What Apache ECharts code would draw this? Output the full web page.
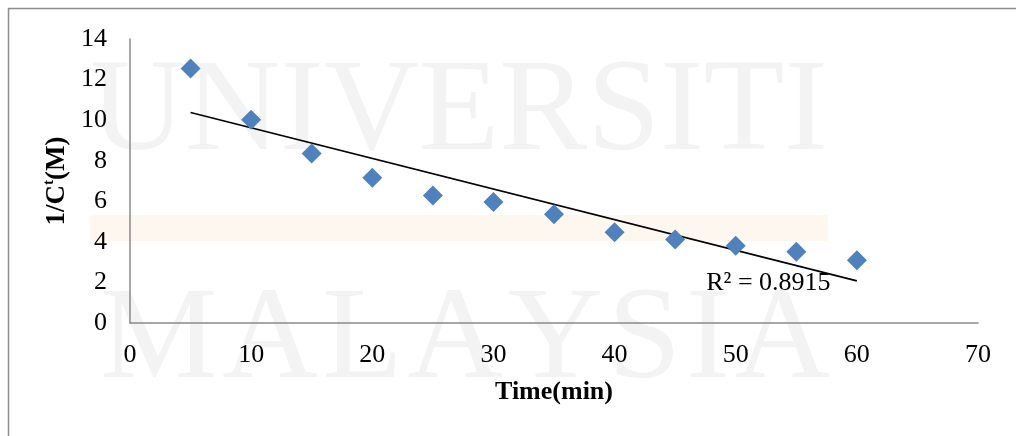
<!DOCTYPE html>
<html>
<head>
<meta charset="utf-8">
<script src="https://cdn.jsdelivr.net/npm/echarts@6/dist/echarts.min.js"></script>
<style>
  html, body { margin: 0; padding: 0; background: #ffffff; }
  #chart { width: 1016px; height: 436px; }
</style>
</head>
<body>
<div id="chart"></div>
<script>
// Reaction time (min) and reciprocal concentration 1/Ct (M)
const timeMin = [5, 10, 15, 20, 25, 30, 35, 40, 45, 50, 55, 60];
const invConc = [12.55, 10.02, 8.36, 7.16, 6.28, 5.96, 5.36, 4.47, 4.12, 3.81, 3.51, 3.09];

// Axis ranges
const xRange = [0, 70, 10];
const yRange = [0, 14, 2];

// Texts
const xTitle = 'Time(min)';
const rSquaredText = 'R\u00B2 = 0.8915';
const watermarkTop = 'UNIVERSITI';
const watermarkBottom = 'MALAYSIA';

const SERIF = '"Liberation Serif", "Times New Roman", serif';

// Ordinary least-squares linear trendline over the measured points
function linearFit(xs, ys) {
  const n = xs.length;
  const mx = xs.reduce((a, b) => a + b, 0) / n;
  const my = ys.reduce((a, b) => a + b, 0) / n;
  let sxy = 0, sxx = 0;
  for (let i = 0; i < n; i++) {
    sxy += (xs[i] - mx) * (ys[i] - my);
    sxx += (xs[i] - mx) * (xs[i] - mx);
  }
  const slope = sxy / sxx;
  return { slope, intercept: my - slope * mx };
}
const fit = linearFit(timeMin, invConc);
const xFirst = timeMin[0], xLast = timeMin[timeMin.length - 1];
const trendLine = [
  [xFirst, fit.intercept + fit.slope * xFirst],
  [xLast, fit.intercept + fit.slope * xLast]
];

const chart = echarts.init(document.getElementById('chart'), null, { renderer: 'canvas' });

// Lay out letter-spaced watermark words between two x positions
function spacedLetters(word, x0, x1, baseline, size) {
  const ctx = document.createElement('canvas').getContext('2d');
  ctx.font = size + 'px ' + SERIF;
  const widths = word.split('').map(ch => ctx.measureText(ch).width);
  const total = widths.reduce((a, b) => a + b, 0);
  const gap = word.length > 1 ? (x1 - x0 - total) / (word.length - 1) : 0;
  const out = [];
  let x = x0;
  word.split('').forEach((ch, i) => {
    out.push({
      type: 'text', z: -5, silent: true,
      x: x, y: baseline,
      style: { text: ch, fill: '#f3f3f3', font: size + 'px ' + SERIF, textAlign: 'left', textVerticalAlign: 'bottom', verticalAlign: 'bottom' }
    });
    x += widths[i] + gap;
  });
  return out;
}

const watermark = [
  {
    type: 'rect', z: -6, silent: true,
    shape: { x: 90, y: 215, width: 738, height: 26 },
    style: { fill: '#fef7f0' }
  }
].concat(spacedLetters(watermarkTop, 90, 828, 180, 132))
 .concat(spacedLetters(watermarkBottom, 100, 830, 408, 132));

const option = {
  backgroundColor: '#ffffff',
  animation: false,
  grid: { left: 130, right: 38, top: 39, bottom: 113, containLabel: false },
  xAxis: {
    type: 'value',
    min: xRange[0], max: xRange[1], interval: xRange[2],
    name: xTitle,
    nameLocation: 'middle',
    nameGap: 56,
    nameTextStyle: { fontFamily: SERIF, fontWeight: 'bold', fontSize: 26, color: '#000000' },
    axisLine: { show: true, onZero: false, lineStyle: { color: '#8a8a8a', width: 1.5 } },
    axisTick: { show: false },
    splitLine: { show: false },
    axisLabel: { fontFamily: SERIF, fontSize: 26, color: '#000000', margin: 19 }
  },
  yAxis: {
    type: 'value',
    min: yRange[0], max: yRange[1], interval: yRange[2],
    name: '{a|1/C}{s|t}{a|(M)}',
    nameLocation: 'middle',
    nameGap: 58,
    nameRotate: 90,
    nameTextStyle: {
      color: '#000000',
      rich: {
        a: { fontFamily: SERIF, fontWeight: 'bold', fontSize: 27, color: '#000000', lineHeight: 30 },
        s: { fontFamily: SERIF, fontWeight: 'bold', fontSize: 15, color: '#000000', verticalAlign: 'top', lineHeight: 16 }
      }
    },
    axisLine: { show: true, onZero: false, lineStyle: { color: '#8a8a8a', width: 1.5 } },
    axisTick: { show: false },
    splitLine: { show: false },
    axisLabel: { fontFamily: SERIF, fontSize: 26, color: '#000000', margin: 23 }
  },
  series: [
    {
      name: 'Trendline',
      type: 'line',
      data: trendLine,
      symbol: 'none',
      lineStyle: { color: '#000000', width: 1.6 },
      z: 3,
      silent: true
    },
    {
      name: '1/Ct',
      type: 'scatter',
      data: timeMin.map((t, i) => [t, invConc[i]]),
      symbol: 'diamond',
      symbolSize: 20,
      itemStyle: { color: '#4f81bd', opacity: 1 },
      z: 4
    }
  ],
  graphic: { elements: [] }
};

chart.setOption(option);

// Outer chart-area border, watermark and the R² annotation placed near the trendline end
const rPos = chart.convertToPixel({ gridIndex: 0 }, [52.7, 1.97]);
chart.setOption({
  graphic: {
    elements: [
      {
        type: 'rect', z: -7, silent: true,
        shape: { x: 8.5, y: 8.5, width: 1100, height: 500 },
        style: { fill: null, stroke: '#8c8c8c', lineWidth: 1.5 }
      }
    ].concat(watermark).concat([
      {
        type: 'text', z: 10, silent: true,
        x: rPos[0], y: rPos[1],
        style: { text: rSquaredText, fill: '#000000', font: '26px ' + SERIF, textAlign: 'center', textVerticalAlign: 'middle', align: 'center', verticalAlign: 'middle' }
      }
    ])
  }
});
</script>
</body>
</html>
